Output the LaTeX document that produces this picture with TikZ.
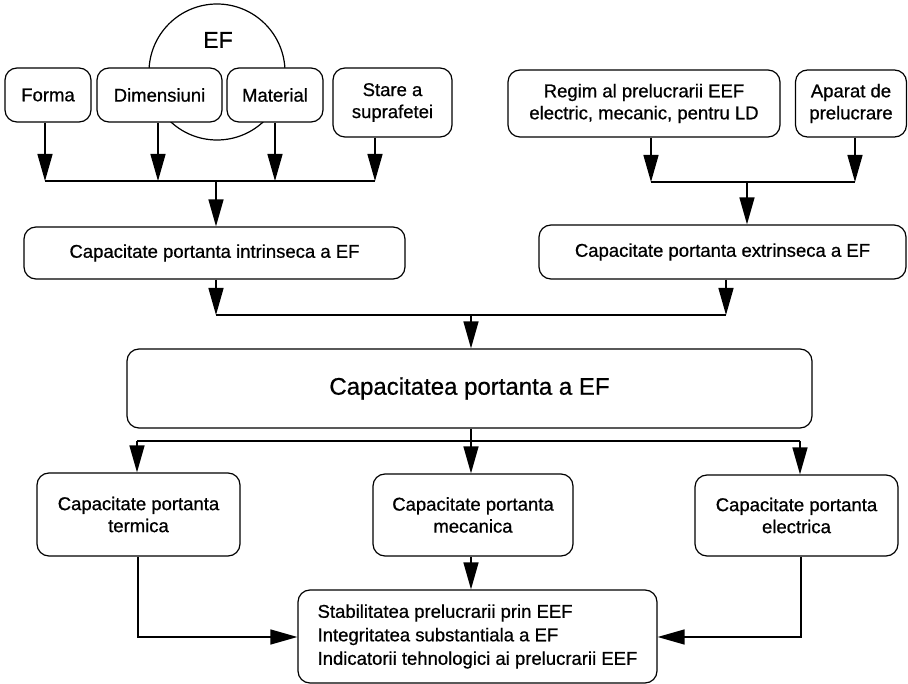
\documentclass[tikz,border=0pt]{standalone}
\usepackage{fontspec}
\setmainfont{Liberation Sans}[FakeBold=0.7]
\usetikzlibrary{arrows.meta}

\tikzset{
  box/.style={draw, rounded corners=12pt, fill=white, line width=1.2pt,
    align=center, inner sep=0pt,
    font=\fontsize{18.5}{22}\selectfont},
  link/.style={line width=1.4pt},
  flow/.style={link, -{Triangle[length=27pt,width=15pt]}},
}

\begin{document}
\begin{tikzpicture}[x=1pt, y=-1pt]
\useasboundingbox (0,0) rectangle (908,684);

% element circle behind the first row of boxes
\node[circle, draw, line width=1.2pt, minimum size=136pt, inner sep=0pt] (ef) at (217,72) {};
\node[font=\fontsize{23}{26}\selectfont] (eflbl) at (218,40) {EF};

% first row: properties of the element
\node[box, minimum width=86pt, minimum height=54pt]  (forma) at (48,95)    {Forma};
\node[box, minimum width=125pt, minimum height=54pt] (dim)   at (159.5,95) {Dimensiuni};
\node[box, minimum width=96pt, minimum height=54pt]  (mat)   at (275,95)   {Material};
\node[box, minimum width=119pt, minimum height=69pt] (stare) at (392.5,102.5) {Stare a\\suprafetei};

% first row: processing conditions
\node[box, minimum width=272pt, minimum height=67pt] (regim)  at (644,103.5) {Regim al prelucrarii EEF\\electric, mecanic, pentru LD};
\node[box, minimum width=111pt, minimum height=67pt] (aparat) at (851,103.5) {Aparat de\\prelucrare};

% second row
\node[box, minimum width=381pt, minimum height=52pt] (intr) at (214.5,253) {Capacitate portanta intrinseca a EF};
\node[box, minimum width=367pt, minimum height=54pt] (extr) at (722.5,252) {Capacitate portanta extrinseca a EF};

% central box
\node[box, minimum width=685pt, minimum height=79pt, font=\fontsize{24}{28}\selectfont] (cap) at (469.5,388.5) {Capacitatea portanta a EF};

% third row
\node[box, minimum width=203pt, minimum height=83pt] (term) at (138.5,514.5) {Capacitate portanta\\termica};
\node[box, minimum width=200pt, minimum height=82pt] (mec)  at (473,515)     {Capacitate portanta\\mecanica};
\node[box, minimum width=203pt, minimum height=81pt] (elec) at (796.5,515.5) {Capacitate portanta\\electrica};

% result box
\node[box, align=left, minimum width=359pt, minimum height=93pt, font=\fontsize{18.5}{23.5}\selectfont] (res) at (477.5,636.5)
  {Stabilitatea prelucrarii prin EEF\\Integritatea substantiala a EF\\Indicatorii tehnologici ai prelucrarii EEF};

% bus junctions
\coordinate (t1) at (45,181);
\coordinate (t2) at (158,181);
\coordinate (t3) at (275,181);
\coordinate (t4) at (375,181);
\coordinate (tm) at (216,181);
\coordinate (r1) at (651,182);
\coordinate (r2) at (855,182);
\coordinate (rm) at (747,182);
\coordinate (m1) at (216,315);
\coordinate (m2) at (726,315);
\coordinate (mm) at (471,315);
\coordinate (l1) at (137,441);
\coordinate (l2) at (471,441);
\coordinate (l3) at (800,441);
\coordinate (cl) at (138,637);
\coordinate (cr) at (801,637);

% properties -> intrinsic capacity
\draw[flow] (t1 |- forma.south) -- (t1);
\draw[flow] (t2 |- dim.south)   -- (t2);
\draw[flow] (t3 |- mat.south)   -- (t3);
\draw[flow] (t4 |- stare.south) -- (t4);
\draw[link] (t1) -- (t4);
\draw[flow] (tm) -- (tm |- intr.north);

% conditions -> extrinsic capacity
\draw[flow] (r1 |- regim.south)  -- (r1);
\draw[flow] (r2 |- aparat.south) -- (r2);
\draw[link] (r1) -- (r2);
\draw[flow] (rm) -- (rm |- extr.north);

% intrinsic + extrinsic -> capacity
\draw[flow] (m1 |- intr.south) -- (m1);
\draw[flow] (m2 |- extr.south) -- (m2);
\draw[link] (m1) -- (m2);
\draw[flow] (mm) -- (mm |- cap.north);

% capacity -> thermal, mechanical, electrical
\draw[link] (l2 |- cap.south) -- (l2);
\draw[link] (l1) -- (l3);
\draw[flow] (l1) -- (l1 |- term.north);
\draw[flow] (l2) -- (l2 |- mec.north);
\draw[flow] (l3) -- (l3 |- elec.north);

% -> result
\draw[flow] (cl |- term.south) -- (cl) -- (res.west |- cl);
\draw[flow] (l2 |- mec.south) -- (l2 |- res.north);
\draw[flow] (cr |- elec.south) -- (cr) -- (res.east |- cr);

\end{tikzpicture}
\end{document}
